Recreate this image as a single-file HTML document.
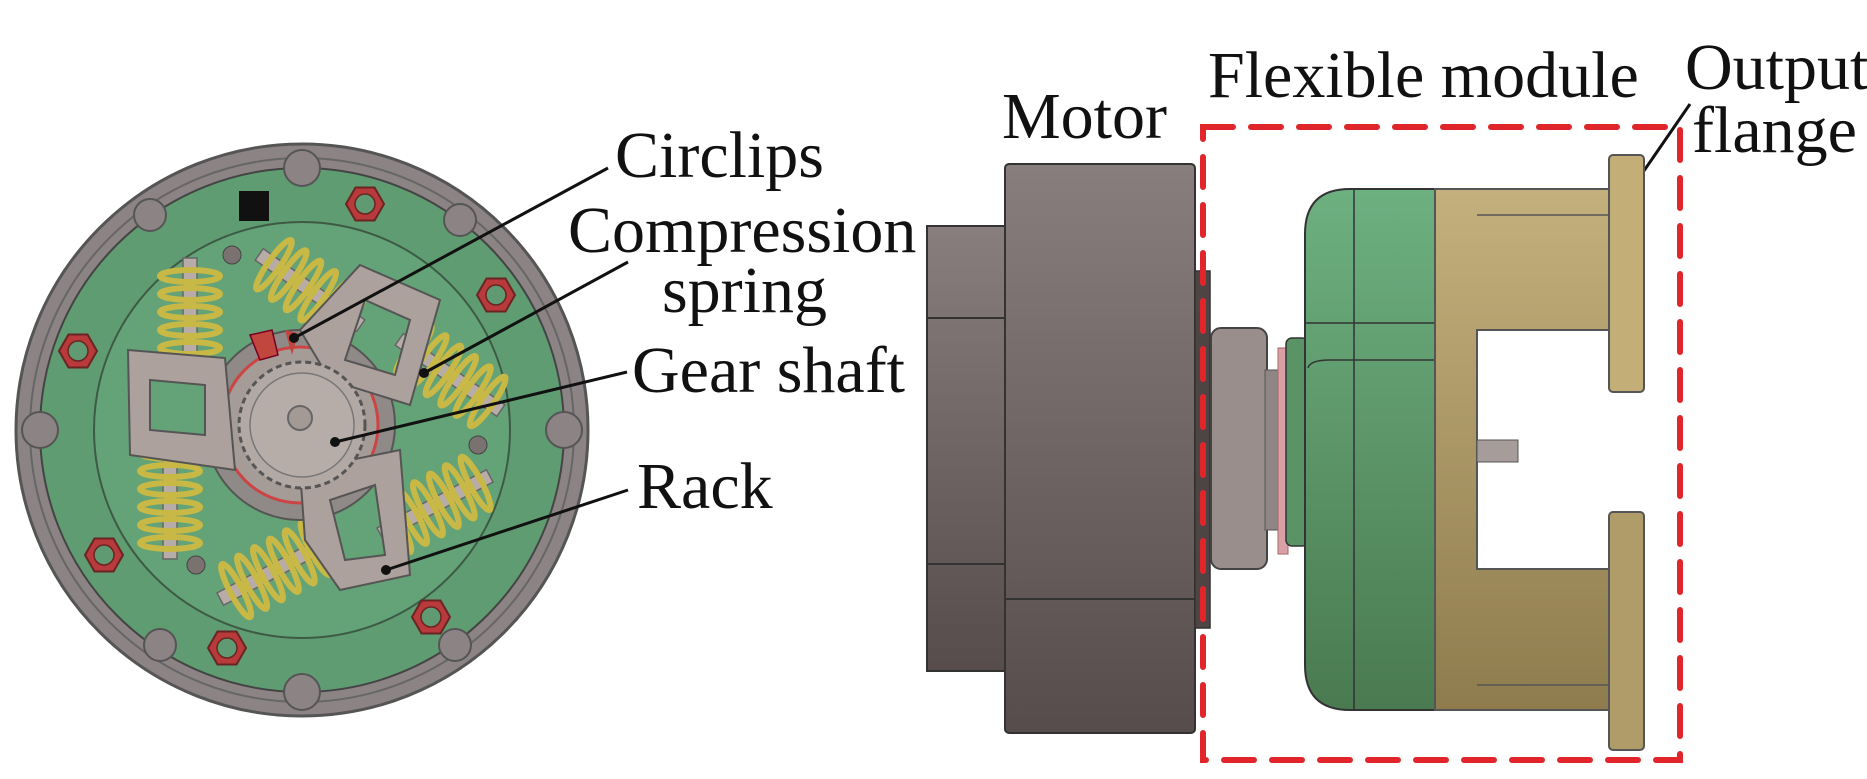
<!DOCTYPE html>
<html><head><meta charset="utf-8"><style>
html,body{margin:0;padding:0;background:#fff;}
svg{display:block}
text{font-family:"Liberation Serif",serif;fill:#111;}
</style></head><body>
<svg width="1867" height="779" viewBox="0 0 1867 779" xmlns="http://www.w3.org/2000/svg">
<defs>
<g id="spring">
<rect x="-62" y="-7" width="124" height="14" fill="#b7aca8" stroke="#666" stroke-width="1.5"/>
<g fill="none" stroke="#c8b845" stroke-width="6">
<ellipse cx="-44" cy="0" rx="6" ry="30"/><ellipse cx="-26" cy="0" rx="6" ry="30"/>
<ellipse cx="-8" cy="0" rx="6" ry="30"/><ellipse cx="10" cy="0" rx="6" ry="30"/>
<ellipse cx="28" cy="0" rx="6" ry="30"/><ellipse cx="46" cy="0" rx="6" ry="30"/>
</g>
</g>
<g id="bolt">
<polygon points="-19,0 -9.5,-16.5 9.5,-16.5 19,0 9.5,16.5 -9.5,16.5" fill="#b83a3a" stroke="#6a2424" stroke-width="2"/>
<circle r="10" fill="#5f9a72" stroke="#6a2424" stroke-width="1.5"/>
</g>
</defs>
<!-- Left disc -->
<circle cx="302" cy="430" r="286" fill="#8c8385" stroke="#555" stroke-width="3"/>
<circle cx="302" cy="430" r="272" fill="none" stroke="#666" stroke-width="2"/>
<circle cx="302" cy="430" r="262" fill="#5f9c72" stroke="#444" stroke-width="2"/>
<g fill="#8c8385" stroke="#555" stroke-width="2">
<circle cx="302" cy="168" r="18"/><circle cx="302" cy="692" r="18"/>
<circle cx="40" cy="430" r="18"/><circle cx="564" cy="430" r="18"/>
<circle cx="150" cy="215" r="16"/><circle cx="455" cy="645" r="16"/>
<circle cx="160" cy="645" r="16"/><circle cx="460" cy="220" r="16"/>
</g>
<circle cx="302" cy="430" r="208" fill="#64a277" stroke="#3d5a45" stroke-width="2"/>
<!-- springs -->
<g transform="translate(190 320) rotate(90)"><use href="#spring"/></g>
<g transform="translate(170 497) rotate(90)"><use href="#spring"/></g>
<g transform="translate(310 290) rotate(35)"><use href="#spring"/></g>
<g transform="translate(450 375) rotate(35)"><use href="#spring"/></g>
<g transform="translate(435 505) rotate(-28)"><use href="#spring"/></g>
<g transform="translate(275 570) rotate(-28)"><use href="#spring"/></g>
<!-- central area -->
<circle cx="300" cy="425" r="95" fill="#8f8a88" stroke="#555" stroke-width="2"/>
<circle cx="300" cy="425" r="78" fill="#a59c98" stroke="#c44" stroke-width="3"/>
<!-- racks -->
<path d="M128 350 L225 358 L235 470 L130 455 Z M150 380 L150 430 L205 435 L205 385 Z" fill="#aca19c" fill-rule="evenodd" stroke="#555" stroke-width="2"/>
<path d="M360 265 L440 300 L410 405 L330 380 L300 330 Z M365 300 L345 360 L395 375 L410 320 Z" fill="#aca19c" fill-rule="evenodd" stroke="#555" stroke-width="2"/>
<path d="M300 470 L400 450 L410 575 L340 590 L305 540 Z M330 500 L345 560 L385 555 L375 485 Z" fill="#aca19c" fill-rule="evenodd" stroke="#555" stroke-width="2"/>
<!-- gear -->
<circle cx="302" cy="425" r="63" fill="#b2a8a4" stroke="#555" stroke-width="3" stroke-dasharray="6 4"/>
<circle cx="302" cy="425" r="52" fill="#b7ada8" stroke="#777" stroke-width="1.5"/>
<circle cx="300" cy="418" r="12" fill="#a39995" stroke="#666" stroke-width="2"/>
<path d="M250 335 L272 330 L278 355 L260 360 Z" fill="#c0463e" stroke="#702" stroke-width="1.5"/>
<path d="M285 330 L298 333 L292 355 Z" fill="#c0463e"/>
<!-- bolts -->
<use href="#bolt" x="78" y="351"/><use href="#bolt" x="365" y="204"/>
<use href="#bolt" x="496" y="295"/><use href="#bolt" x="104" y="555"/>
<use href="#bolt" x="227" y="648"/><use href="#bolt" x="431" y="617"/>
<circle cx="232" cy="255" r="9" fill="#7a7270" stroke="#444"/>
<circle cx="196" cy="565" r="9" fill="#7a7270" stroke="#444"/>
<circle cx="478" cy="445" r="9" fill="#7a7270" stroke="#444"/>
<rect x="239" y="191" width="30" height="30" fill="#111"/>
<!-- leader lines -->
<g stroke="#111" stroke-width="3">
<line x1="608" y1="168" x2="294" y2="338"/>
<line x1="628" y1="262" x2="424" y2="373"/>
<line x1="627" y1="372" x2="335" y2="442"/>
<line x1="628" y1="490" x2="386" y2="570"/>
<line x1="1690" y1="104" x2="1599" y2="236"/>
</g>
<g fill="#111"><circle cx="294" cy="338" r="5"/><circle cx="424" cy="373" r="5"/><circle cx="335" cy="442" r="5"/><circle cx="386" cy="570" r="5"/><circle cx="1599" cy="236" r="4"/></g>
<text x="615" y="177" font-size="66">Circlips</text>
<text x="568" y="252" font-size="66">Compression</text>
<text x="662" y="312" font-size="66">spring</text>
<text x="632" y="392" font-size="66">Gear shaft</text>
<text x="637" y="508" font-size="66">Rack</text>
<text x="1002" y="138" font-size="66">Motor</text>
<text x="1208" y="97" font-size="66">Flexible module</text>
<text x="1685" y="89" font-size="66">Output</text>
<text x="1692" y="152" font-size="66">flange</text>
<!-- Motor -->
<defs>
<linearGradient id="mg" x1="0" y1="0" x2="0" y2="1"><stop offset="0" stop-color="#887e7e"/><stop offset="1" stop-color="#574c4c"/></linearGradient>
<linearGradient id="gg" x1="0" y1="0" x2="0" y2="1"><stop offset="0" stop-color="#6db080"/><stop offset="1" stop-color="#4a7a50"/></linearGradient>
<linearGradient id="tg" x1="0" y1="0" x2="0" y2="1"><stop offset="0" stop-color="#c4b07c"/><stop offset="1" stop-color="#8f7c4e"/></linearGradient>
</defs>
<rect x="927" y="226" width="80" height="445" fill="url(#mg)" stroke="#333" stroke-width="2"/>
<line x1="927" y1="318" x2="1005" y2="318" stroke="#333" stroke-width="2"/>
<line x1="927" y1="564" x2="1005" y2="564" stroke="#333" stroke-width="2"/>
<rect x="1005" y="164" width="190" height="569" rx="4" fill="url(#mg)" stroke="#333" stroke-width="2"/>
<line x1="1005" y1="599" x2="1195" y2="599" stroke="#333" stroke-width="2"/>
<rect x="1195" y="271" width="15" height="357" fill="#4e4444" stroke="#333" stroke-width="1.5"/>
<!-- coupling -->
<rect x="1211" y="328" width="56" height="241" rx="10" fill="#9a8e8c" stroke="#444" stroke-width="2"/>
<rect x="1265" y="370" width="16" height="160" fill="#8f8584" stroke="#555"/>
<rect x="1278" y="348" width="10" height="206" fill="#d9a0a6" stroke="#a66"/>
<!-- green housing -->
<rect x="1286" y="338" width="22" height="208" rx="6" fill="#5a9466" stroke="#333" stroke-width="1.5"/>
<path d="M1350 189 L1435 189 L1435 710 L1350 710 Q1305 710 1305 665 L1305 234 Q1305 189 1350 189 Z" fill="url(#gg)" stroke="#333" stroke-width="2"/>
<line x1="1354" y1="189" x2="1354" y2="710" stroke="#333" stroke-width="1.5"/>
<path d="M1305 323 L1435 323 M1308 368 Q1310 360 1330 360 L1435 360" fill="none" stroke="#333" stroke-width="1.5"/>
<!-- tan output -->
<path d="M1435 189 L1609 189 L1609 330 L1477 330 L1477 569 L1609 569 L1609 710 L1435 710 Z" fill="url(#tg)" stroke="#555" stroke-width="2"/>
<line x1="1477" y1="215" x2="1609" y2="215" stroke="#555" stroke-width="1.5"/>
<line x1="1477" y1="685" x2="1609" y2="685" stroke="#555" stroke-width="1.5"/>
<rect x="1609" y="155" width="35" height="237" rx="4" fill="#c3ae78" stroke="#555" stroke-width="2"/>
<rect x="1609" y="512" width="35" height="238" rx="4" fill="#b09c68" stroke="#555" stroke-width="2"/>
<rect x="1477" y="440" width="41" height="22" fill="#a69d9a" stroke="#555"/>
<!-- red dashed box -->
<rect x="1203" y="127" width="477" height="633" fill="none" stroke="#e0262a" stroke-width="6" stroke-dasharray="30 18" stroke-linecap="round"/>
</svg>
</body></html>
